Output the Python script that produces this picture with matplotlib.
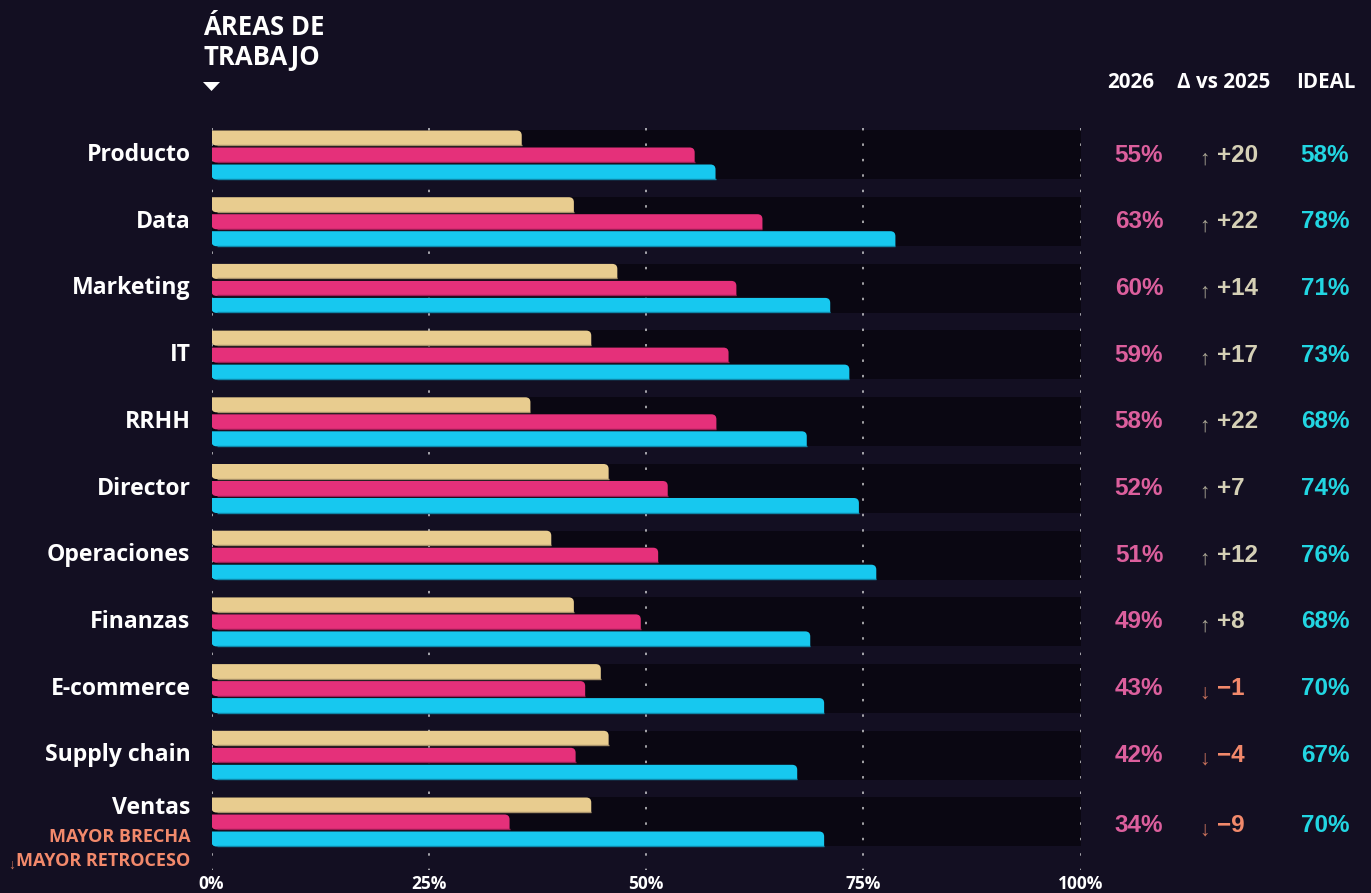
import matplotlib
matplotlib.use("Agg")
import matplotlib.pyplot as plt
from matplotlib.path import Path
from matplotlib.patches import PathPatch, Polygon, Rectangle
from matplotlib.transforms import blended_transform_factory

# ---------------- data ----------------
categories = ["Producto", "Data", "Marketing", "IT", "RRHH", "Director",
              "Operaciones", "Finanzas", "E-commerce", "Supply chain", "Ventas"]
# bar lengths (%)
v2025 = [35.7, 41.7, 46.7, 43.7, 36.7, 45.7, 39.1, 41.7, 44.8, 45.7, 43.7]
v2026 = [55.6, 63.4, 60.4, 59.5, 58.1, 52.5, 51.4, 49.4, 43.0, 41.9, 34.3]
ideal = [58.0, 78.7, 71.2, 73.4, 68.5, 74.5, 76.5, 68.9, 70.5, 67.4, 70.5]
# printed column values
label_2026 = [55, 63, 60, 59, 58, 52, 51, 49, 43, 42, 34]
label_delta = [20, 22, 14, 17, 22, 7, 12, 8, -1, -4, -9]
label_ideal = [58, 78, 71, 73, 68, 74, 76, 68, 70, 67, 70]
xticks = [0, 25, 50, 75, 100]
xtick_labels = ["0%", "25%", "50%", "75%", "100%"]
title = "ÁREAS DE\nTRABAJO"
headers = ["2026", "Δ vs 2025", "IDEAL"]
sub1 = "MAYOR BRECHA"
sub2 = "MAYOR RETROCESO"

# ---------------- style ----------------
BG = "#130f22"
BAND = "#0a0712"
C25, C26, CID = "#e8cc8f", "#e5307a", "#17c8ef"
E25, E26, EID = "#a8916a", "#9c1d55", "#0e88aa"
T26, TID = "#dc5f9d", "#22d6e2"
TPOS, APOS = "#d5d0b6", "#a9a593"
TNEG, ANEG = "#f2896b", "#c9725c"
SANS = ["Open Sans", "DejaVu Sans"]
NUM = ["Liberation Sans", "DejaVu Sans"]

W, H = 1371, 893
fig = plt.figure(figsize=(W / 100, H / 100), dpi=100, facecolor=BG)

def fx(x):
    return x / W

def fy(y):
    return 1 - y / H

# axes geometry (pixels)
X0, X1 = 211.5, 1080.5
Y_TOP, Y_BOT = 118, 878
ROW0, PITCH = 155, 66.7
ylim_top = (Y_TOP - ROW0) / PITCH
ylim_bot = (Y_BOT - ROW0) / PITCH

ax = fig.add_axes([fx(X0), fy(Y_BOT), (X1 - X0) / W, (Y_BOT - Y_TOP) / H])
ax.set_facecolor("none")
ax.set_xlim(0, 100)
ax.set_ylim(ylim_bot, ylim_top)
ax.axis("off")

px_x = 100 / (X1 - X0)   # data units per pixel (x)
px_y = 1 / PITCH         # data units per pixel (y)

def bar(x1, yc, h, face, edge):
    x0 = 0
    rx = min(5 * px_x, (x1 - x0) / 2)
    ry = 5 * px_y
    yt = yc - h / 2   # visually top (inverted axis)
    yb = yc + h / 2   # visually bottom
    verts = [(x0, yt), (x1 - rx, yt), (x1, yt), (x1, yt + ry), (x1, yb),
             (x0 + rx, yb), (x0, yb), (x0, yb - ry), (x0, yt)]
    codes = [Path.MOVETO, Path.LINETO, Path.CURVE3, Path.CURVE3, Path.LINETO,
             Path.LINETO, Path.CURVE3, Path.CURVE3, Path.CLOSEPOLY]
    ax.add_patch(PathPatch(Path(verts, codes), facecolor=face, edgecolor="none",
                           zorder=3))
    ax.plot([x0 + rx, x1], [yb - 0.5 * px_y, yb - 0.5 * px_y], color=edge,
            lw=1.0, solid_capstyle="butt", zorder=3.5)

band_h = 49 * px_y
bh = 15 * px_y
offs = [-17 * px_y, 0, 17 * px_y]
n = len(categories)

for i in range(n):
    ax.add_patch(Rectangle((0, i - band_h / 2 - 0.2 * px_y), 100.25, band_h,
                           facecolor=BAND, edgecolor="none", zorder=1))
    bar(v2025[i], i + offs[0], bh, C25, E25)
    bar(v2026[i], i + offs[1], bh, C26, E26)
    bar(ideal[i], i + offs[2], bh, CID, EID)

ax.vlines(xticks, -0.4, 10.72, colors="white", linestyles=(0, (1.6, 8.5)),
          lw=1.1, alpha=0.8, zorder=2)

# x tick labels
tb = blended_transform_factory(ax.transData, fig.transFigure)
for xt, lab in zip(xticks, xtick_labels):
    fig.text(xt, fy(884), lab, transform=tb, ha="center", va="center",
             color="white", fontsize=12.5, fontweight="bold", family=SANS)

# row labels
for i, cat in enumerate(categories):
    yoff = -13.5 * px_y if i == n - 1 else 0
    ax.annotate(cat, xy=(0, i + yoff), xytext=(-21, 0), textcoords="offset pixels",
                ha="right", va="center", color="white", fontsize=16.6,
                fontweight="bold", family=SANS)
ax.annotate(sub1, xy=(0, n - 1 + 14.5 * px_y), xytext=(-21, 0),
            textcoords="offset pixels", ha="right", va="center", color=TNEG,
            fontsize=13, fontweight="bold", family=SANS)
t2 = ax.annotate(sub2, xy=(0, n - 1 + 38.5 * px_y), xytext=(-21, 0),
                 textcoords="offset pixels", ha="right", va="center", color=TNEG,
                 fontsize=13, fontweight="bold", family=SANS)
fig.canvas.draw()
bb = t2.get_window_extent()
fig.text(fx(bb.x0 - 5), fy(H - (bb.y0 + bb.y1) / 2) - 4 / H, "↓", ha="center",
         va="center", color=ANEG, fontsize=10, family=NUM)

# right-hand columns
tr = blended_transform_factory(fig.transFigure, ax.transData)
for i in range(n):
    yy = i + (4 * px_y if i == n - 1 else 0)
    fig.text(fx(1139), yy, f"{label_2026[i]}%", transform=tr, ha="center",
             va="center", color=T26, fontsize=17.5, fontweight="bold", family=NUM)
    fig.text(fx(1325), yy, f"{label_ideal[i]}%", transform=tr, ha="center",
             va="center", color=TID, fontsize=17.5, fontweight="bold", family=NUM)
    d = label_delta[i]
    if d >= 0:
        arr, txt, ca, ct = "↑", f"+{d}", APOS, TPOS
    else:
        arr, txt, ca, ct = "↓", f"\u2212{abs(d)}", ANEG, TNEG
    fig.text(fx(1204), yy + 4 * px_y, arr, transform=tr, ha="center", va="center",
             color=ca, fontsize=15, family=NUM)
    fig.text(fx(1217), yy, txt, transform=tr, ha="left", va="center",
             color=ct, fontsize=17.5, fontweight="bold", family=NUM)

for hx, htxt in zip([1131, 1224, 1326], headers):
    fig.text(fx(hx), fy(82), htxt, ha="center", va="center", color="white",
             fontsize=14.8, fontweight="bold", family=SANS)

# title + marker
fig.text(fx(203), fy(14), title, ha="left", va="top", color="white",
         fontsize=18.5, fontweight="bold", family=SANS, linespacing=1.12)
fig.patches.append(Polygon([[fx(203), fy(82)], [fx(220), fy(82)], [fx(211.5), fy(91)]],
                           closed=True, transform=fig.transFigure, facecolor="white",
                           edgecolor="none"))

fig.savefig("out.png", dpi=100, facecolor=BG)
